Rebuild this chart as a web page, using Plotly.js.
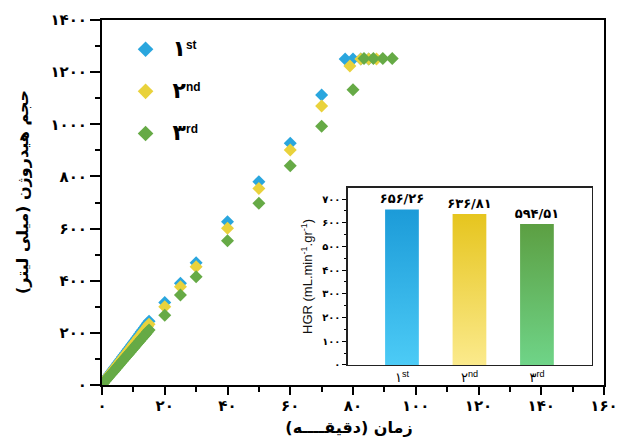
<!DOCTYPE html>
<html>
<head>
<meta charset="utf-8">
<script src="https://cdn.plot.ly/plotly-3.0.1.min.js"></script>
<style>
  html, body { margin: 0; padding: 0; background: #ffffff; }
  #chart { width: 628px; height: 443px; }
</style>
</head>
<body>
<div id="chart"></div>
<script>
// Hydrogen volume (mL) versus time (min) for three successive runs
const timeFirst = [0, 0.5, 1, 1.5, 2, 2.5, 3, 3.5, 4, 4.5, 5, 5.5, 6, 6.5, 7, 7.5, 8, 8.5, 9, 9.5, 10, 10.5, 11, 11.5, 12, 12.5, 13, 13.5, 14, 14.5, 15, 20, 25, 30, 40, 50, 60, 70, 77.5, 80, 82.5, 85];
const volFirst = [3, 11, 19, 27, 35, 43, 51, 59, 67, 75, 83, 91, 99, 107, 115, 123, 131, 139, 147, 155, 163, 171, 179, 187, 196, 204, 212, 220, 228, 237, 245, 316, 390, 469, 626, 780, 927, 1112, 1250, 1250, 1250, 1250];

const timeSecond = [0, 0.5, 1, 1.5, 2, 2.5, 3, 3.5, 4, 4.5, 5, 5.5, 6, 6.5, 7, 7.5, 8, 8.5, 9, 9.5, 10, 10.5, 11, 11.5, 12, 12.5, 13, 13.5, 14, 14.5, 15, 20, 25, 30, 40, 50, 60, 70, 79, 82.5, 85, 87.5];
const volSecond = [2, 10, 17, 25, 33, 40, 48, 56, 63, 71, 79, 86, 94, 102, 109, 117, 125, 132, 140, 148, 156, 163, 171, 179, 186, 194, 202, 209, 217, 225, 233, 300, 377, 454, 601, 754, 901, 1070, 1224, 1250, 1250, 1250];

const timeThird = [0, 0.5, 1, 1.5, 2, 2.5, 3, 3.5, 4, 4.5, 5, 5.5, 6, 6.5, 7, 7.5, 8, 8.5, 9, 9.5, 10, 10.5, 11, 11.5, 12, 12.5, 13, 13.5, 14, 14.5, 15, 20, 25, 30, 40, 50, 60, 70, 80, 83.5, 86.5, 89.5, 92.5];
const volThird = [1, 8, 15, 22, 29, 36, 43, 50, 57, 64, 71, 78, 85, 92, 99, 106, 113, 120, 127, 134, 141, 148, 155, 162, 169, 176, 183, 190, 197, 204, 211, 268, 345, 415, 553, 697, 841, 992, 1132, 1252, 1252, 1252, 1252];

// Hydrogen generation rate for each run (inset)
const runIndex = [0, 1, 2];
const runDigits = ['۱', '۲', '۳'];
const runSuffixes = ['st', 'nd', 'rd'];
const hgrValues = [656.26, 636.81, 594.51];

// Axis ticks (Persian numerals)
const xTickVals = [0, 20, 40, 60, 80, 100, 120, 140, 160];
const xTickText = ['۰', '۲۰', '۴۰', '۶۰', '۸۰', '۱۰۰', '۱۲۰', '۱۴۰', '۱۶۰'];
const yTickVals = [0, 200, 400, 600, 800, 1000, 1200, 1400];
const yTickText = ['۰', '۲۰۰', '۴۰۰', '۶۰۰', '۸۰۰', '۱۰۰۰', '۱۲۰۰', '۱۴۰۰'];
const insetTickVals = [0, 100, 200, 300, 400, 500, 600, 700];
const insetTickText = ['۰', '۱۰۰', '۲۰۰', '۳۰۰', '۴۰۰', '۵۰۰', '۶۰۰', '۷۰۰'];

const seriesColors = ['#2aa6de', '#e9d23c', '#66aa46'];
const gradientStops = [
  ['#1c9bd8', '#4ccbf6'],
  ['#e6c51e', '#fbea8c'],
  ['#5c9f42', '#6fd488']
];

const faDigits = '۰۱۲۳۴۵۶۷۸۹';
function toPersian(v) {
  return v.toFixed(2).replace(/[0-9]/g, d => faDigits[+d]).replace('.', '/');
}

const LAT = 'Liberation Sans, DejaVu Sans, sans-serif';
const FA = 'DejaVu Sans, sans-serif';

function runTrace(x, y, i) {
  return {
    type: 'scatter', mode: 'markers', x: x, y: y,
    name: '<span style="font-size:22px"><b>' + runDigits[i] + '</b></span><sup><b>' + runSuffixes[i] + '</b></sup>',
    legendgroup: 'run' + i,
    xaxis: 'x', yaxis: 'y',
    marker: { symbol: 'diamond', size: 10, color: seriesColors[i], line: { width: 0 } },
    hoverinfo: 'skip'
  };
}

const traces = [
  runTrace(timeFirst, volFirst, 0),
  runTrace(timeSecond, volSecond, 1),
  runTrace(timeThird, volThird, 2),
  {
    type: 'bar', x: runIndex, y: hgrValues, xaxis: 'x2', yaxis: 'y2',
    width: 0.5, showlegend: false, hoverinfo: 'skip',
    marker: { color: seriesColors, line: { width: 0 } },
    text: hgrValues.map(toPersian), textposition: 'outside', cliponaxis: false,
    constraintext: 'none',
    textfont: { family: FA, size: 13, color: '#000', weight: 'bold' }
  }
];

const layout = {
  width: 628, height: 443,
  margin: { l: 102, r: 24, t: 20, b: 58 },
  paper_bgcolor: '#ffffff', plot_bgcolor: '#ffffff',
  showlegend: true,
  legend: {
    x: 0.033, y: 0.968, xanchor: 'left', yanchor: 'top',
    bgcolor: 'rgba(0,0,0,0)', borderwidth: 0,
    font: { family: LAT, size: 17, color: '#000' },
    traceorder: 'grouped', tracegroupgap: 17, itemwidth: 44,
    itemsizing: 'constant'
  },
  xaxis: {
    domain: [0, 1], range: [0, 160],
    tickmode: 'array', tickvals: xTickVals, ticktext: xTickText,
    tickfont: { family: FA, size: 15, color: '#000', weight: 'bold' },
    ticks: 'outside', ticklen: 8, tickwidth: 2, tickcolor: '#000',
    ticklabelstandoff: -2,
    minor: { dtick: 10, tick0: 0, ticks: 'outside', ticklen: 5, tickwidth: 2, tickcolor: '#000' },
    showline: true, linewidth: 2, linecolor: '#000', mirror: true,
    showgrid: false, zeroline: false,
    title: { text: 'زمان (دقیقــــه)', font: { family: FA, size: 16, color: '#000', weight: 'bold' }, standoff: 6 }
  },
  yaxis: {
    domain: [0, 1], range: [0, 1400],
    tickmode: 'array', tickvals: yTickVals, ticktext: yTickText,
    tickfont: { family: FA, size: 15, color: '#000', weight: 'bold' },
    ticks: 'outside', ticklen: 10, tickwidth: 2, tickcolor: '#000',
    minor: { dtick: 100, tick0: 0, ticks: 'outside', ticklen: 5, tickwidth: 2, tickcolor: '#000' },
    showline: true, linewidth: 2, linecolor: '#000', mirror: true,
    showgrid: false, zeroline: false,
    title: { text: 'حجم هیدروژن (میلی لیتر)', font: { family: FA, size: 16, color: '#000', weight: 'bold' }, standoff: 12 }
  },
  xaxis2: {
    domain: [0.490, 0.976], anchor: 'y2', range: [-0.8, 2.815],
    tickmode: 'array', tickvals: runIndex,
    ticktext: runIndex.map(i => runDigits[i] + '<sup>' + runSuffixes[i] + '</sup>'),
    tickfont: { family: LAT, size: 13, color: '#000' },
    ticks: '', showline: true, linewidth: 1.5, linecolor: '#222', mirror: true,
    showgrid: false, zeroline: false
  },
  yaxis2: {
    domain: [0.055, 0.54], anchor: 'x2', range: [0, 747],
    tickmode: 'array', tickvals: insetTickVals, ticktext: insetTickText,
    tickfont: { family: FA, size: 10, color: '#000', weight: 'bold' },
    ticks: 'outside', ticklen: 4, tickwidth: 1, tickcolor: '#000',
    minor: { dtick: 50, tick0: 0, ticks: 'outside', ticklen: 2, tickwidth: 1, tickcolor: '#000' },
    showline: true, linewidth: 1.5, linecolor: '#222', mirror: true,
    showgrid: false, zeroline: false,
    title: { text: 'HGR (mL.min<sup>-1</sup>.gr<sup>-1</sup>)', font: { family: LAT, size: 13, color: '#111' }, standoff: 6 }
  }
};

// shift a rendered text node so its on-screen centre lands on (cx, cy)
function centreText(gd, sel, cx, cy) {
  const t = gd.querySelector(sel);
  if (!t) return;
  const r = t.getBoundingClientRect();
  const host = gd.getBoundingClientRect();
  const dx = cx - (r.left - host.left + r.width / 2);
  const dy = cy - (r.top - host.top + r.height / 2);
  const g = t.parentNode;
  const prev = g.getAttribute('transform') || '';
  g.setAttribute('transform', 'translate(' + dx + ',' + dy + ') ' + prev);
}

Plotly.newPlot('chart', traces, layout, { staticPlot: true, displayModeBar: false }).then(gd => {
  // vertical colour gradients on the inset bars
  const svgNS = 'http://www.w3.org/2000/svg';
  const defs = gd.querySelector('svg.main-svg defs');
  gradientStops.forEach((stops, i) => {
    const g = document.createElementNS(svgNS, 'linearGradient');
    g.setAttribute('id', 'barGrad' + i);
    g.setAttribute('x1', '0'); g.setAttribute('y1', '0');
    g.setAttribute('x2', '0'); g.setAttribute('y2', '1');
    stops.forEach((c, k) => {
      const s = document.createElementNS(svgNS, 'stop');
      s.setAttribute('offset', k === 0 ? '0' : '1');
      s.setAttribute('stop-color', c);
      g.appendChild(s);
    });
    defs.appendChild(g);
  });
  gd.querySelectorAll('.barlayer .point path').forEach((p, i) => {
    p.style.fill = 'url(#barGrad' + i + ')';
  });
  // axis titles placed under / beside the plot frame
  centreText(gd, '.g-xtitle text', 349, 428);
  centreText(gd, '.g-ytitle text', 22, 192);
});
</script>
</body>
</html>
